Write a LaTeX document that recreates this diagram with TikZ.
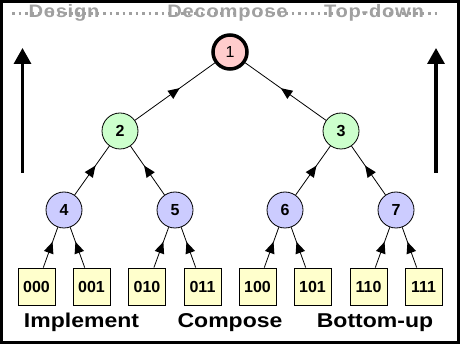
\documentclass[tikz,border=0pt]{standalone}
\usepackage{fontspec}
\setmainfont{Liberation Sans}
\newfontfamily\topfont[FakeStretch=1.12,LetterSpace=4]{Liberation Sans}
\newfontfamily\botfont[FakeStretch=1.15]{Liberation Sans}
\usetikzlibrary{arrows.meta,decorations.markings}
\definecolor{pinkfill}{RGB}{255,204,204}
\definecolor{greenfill}{RGB}{204,255,204}
\definecolor{bluefill}{RGB}{204,204,255}
\definecolor{yellowfill}{RGB}{255,255,204}
\definecolor{toptext}{RGB}{160,160,160}
\tikzset{
  rootnode/.style={circle,draw=black,line width=3.5pt,fill=pinkfill,minimum size=34pt,inner sep=0pt,font=\fontsize{16}{16}\selectfont},
  midnode/.style={circle,draw=black,line width=0.8pt,fill=greenfill,minimum size=36pt,inner sep=0pt,font=\fontsize{16}{16}\selectfont\bfseries},
  lownode/.style={circle,draw=black,line width=0.8pt,fill=bluefill,minimum size=36pt,inner sep=0pt,font=\fontsize{16}{16}\selectfont\bfseries},
  leafbox/.style={rectangle,draw=black,line width=0.8pt,fill=yellowfill,minimum width=37pt,minimum height=37pt,inner sep=0pt,font=\fontsize{16}{16}\selectfont\bfseries},
  conn/.style={line width=0.8pt,postaction={decorate},decoration={markings,
     mark=at position 0.5 with {\fill[black] (6pt,0pt) -- (-5.5pt,5pt) -- (-5.5pt,-5pt) -- cycle;}}},
  bigarrow/.style={line width=3.3pt,-{Triangle[length=16pt,width=17pt]}},
  toplabel/.style={anchor=base,text=toptext,font=\topfont\fontsize{18}{18}\selectfont\bfseries,inner sep=0pt},
  botlabel/.style={anchor=base,font=\botfont\fontsize{20}{20}\selectfont\bfseries,inner sep=0pt},
  dotline/.style={draw=toptext,line width=2.5pt,dash pattern=on 2.5pt off 4pt}
}
\begin{document}
\begin{tikzpicture}[x=1pt,y=-1pt]
\useasboundingbox (0,0) rectangle (460,344);
\fill[white] (0,0) rectangle (460,344);
\draw[line width=3pt] (1.5,1.5) rectangle (458.5,342.5);
% top dotted line and labels
\coordinate (dl) at (12,13.5);
\coordinate (dr) at (440,13.5);
\draw[dotline] (dl) -- (dr);
\node[toplabel] (tdesign) at (64,18) {Design};
\node[toplabel] (tdecomp) at (227.5,18) {Decompose};
\node[toplabel] (ttop) at (374,18) {Top-down};
% side arrows
\coordinate (la0) at (22.5,173);
\coordinate (la1) at (22.5,48);
\coordinate (ra0) at (436,173);
\coordinate (ra1) at (436,48);
\draw[bigarrow] (la0) -- (la1);
\draw[bigarrow] (ra0) -- (ra1);
% nodes
\node[rootnode] (n1) at (230,52) {1};
\node[midnode] (n2) at (120,131) {2};
\node[midnode] (n3) at (341,131) {3};
\node[lownode] (n4) at (64,210) {4};
\node[lownode] (n5) at (175,210) {5};
\node[lownode] (n6) at (285,210) {6};
\node[lownode] (n7) at (396,210) {7};
\node[leafbox] (l0) at (36.5,286.5) {000};
\node[leafbox] (l1) at (91.5,286.5) {001};
\node[leafbox] (l2) at (147,286.5) {010};
\node[leafbox] (l3) at (202.5,286.5) {011};
\node[leafbox] (l4) at (257.5,286.5) {100};
\node[leafbox] (l5) at (312.5,286.5) {101};
\node[leafbox] (l6) at (368.5,286.5) {110};
\node[leafbox] (l7) at (423.5,286.5) {111};
% connectors
\draw[conn] (n2) -- (n1);
\draw[conn] (n3) -- (n1);
\draw[conn] (n4) -- (n2);
\draw[conn] (n5) -- (n2);
\draw[conn] (n6) -- (n3);
\draw[conn] (n7) -- (n3);
\draw[conn] (l0) -- (n4);
\draw[conn] (l1) -- (n4);
\draw[conn] (l2) -- (n5);
\draw[conn] (l3) -- (n5);
\draw[conn] (l4) -- (n6);
\draw[conn] (l5) -- (n6);
\draw[conn] (l6) -- (n7);
\draw[conn] (l7) -- (n7);
% bottom labels
\node[botlabel] (bimpl) at (81.5,327) {Implement};
\node[botlabel] (bcomp) at (230,327) {Compose};
\node[botlabel] (bbot) at (375,327) {Bottom-up};
\end{tikzpicture}
\end{document}
